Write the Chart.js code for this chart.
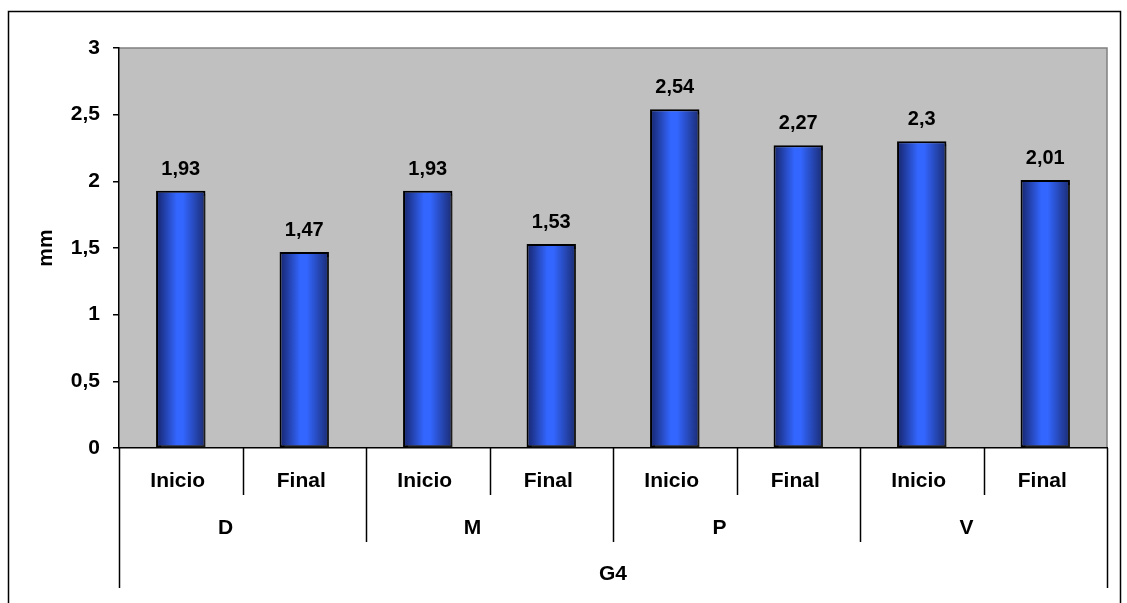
<!DOCTYPE html>
<html>
<head>
<meta charset="utf-8">
<script src="https://cdn.jsdelivr.net/npm/chart.js@4/dist/chart.umd.min.js"></script>
<style>
  body { margin: 0; background: #fff; }
  #grafico { display: block; }
</style>
</head>
<body>
<canvas id="grafico" width="1127" height="603"></canvas>
<script>
// valores medidos (mm) por zona y momento
var fases = ['Inicio', 'Final'];
var zonas = ['D', 'M', 'P', 'V'];
var grupo = 'G4';
var valores = [1.93, 1.47, 1.93, 1.53, 2.54, 2.27, 2.3, 2.01];
var ejeY = [0, 0.5, 1, 1.5, 2, 2.5, 3];

var etiquetas = [];
zonas.forEach(function (z) {
    fases.forEach(function (f) { etiquetas.push(f); });
});

var fuente = "'Liberation Sans', Arial, sans-serif";
var coma = function (v) { return String(v).replace('.', ','); };

// degradado horizontal tipo cilindro para cada barra
function colorBarra(c) {
    var chart = c.chart;
    var x = chart.scales.x;
    if (!x) return '#3366ff';
    var ancho = x.width / etiquetas.length * 0.4;
    var cx = x.getPixelForValue(c.dataIndex);
    if (!isFinite(cx) || !isFinite(ancho) || ancho <= 0) return '#3366ff';
    var g = chart.ctx.createLinearGradient(cx - ancho / 2, 0, cx + ancho / 2, 0);
    g.addColorStop(0, '#16246a');
    g.addColorStop(0.42, '#3366ff');
    g.addColorStop(0.55, '#3366ff');
    g.addColorStop(1, '#1a2b72');
    return g;
}

var marco = {
    id: 'marco',
    beforeDraw: function (chart) {
        var ctx = chart.ctx, a = chart.chartArea;
        ctx.save();
        ctx.fillStyle = '#c0c0c0';
        ctx.fillRect(a.left, a.top, a.right - a.left, a.bottom - a.top);
        ctx.strokeStyle = '#808080';
        ctx.lineWidth = 1.5;
        ctx.beginPath();
        ctx.moveTo(a.left, a.top);
        ctx.lineTo(a.right, a.top);
        ctx.lineTo(a.right, a.bottom);
        ctx.stroke();
        // borde exterior
        ctx.strokeStyle = '#000';
        ctx.lineWidth = 1.5;
        ctx.strokeRect(8.5, 11.5, 1112, 620);
        ctx.restore();
    },
    beforeDatasetsDraw: function (chart) {
        var ctx = chart.ctx;
        ctx.save();
        ctx.shadowColor = 'rgba(60,60,60,0.45)';
        ctx.shadowOffsetX = 3;
        ctx.shadowOffsetY = 3;
        ctx.shadowBlur = 0;
    },
    afterDatasetsDraw: function (chart) {
        var ctx = chart.ctx;
        ctx.restore();
        // valores encima de cada barra
        ctx.save();
        ctx.fillStyle = '#000';
        ctx.font = 'bold 20px ' + fuente;
        ctx.textAlign = 'center';
        ctx.textBaseline = 'alphabetic';
        chart.getDatasetMeta(0).data.forEach(function (bar, i) {
            ctx.fillText(coma(valores[i]), bar.x, bar.y - 16);
        });
        ctx.restore();
    },
    afterDraw: function (chart) {
        // eje de categorias en tres niveles
        var ctx = chart.ctx, x = chart.scales.x, base = chart.chartArea.bottom;
        var n = etiquetas.length;
        var centros = etiquetas.map(function (e, i) { return x.getPixelForValue(i); });
        var limites = [x.left];
        for (var i = 1; i < n; i++) limites.push((centros[i - 1] + centros[i]) / 2);
        limites.push(x.right);

        ctx.save();
        ctx.strokeStyle = '#000';
        ctx.lineWidth = 1.5;
        limites.forEach(function (px, i) {
            var largo = 47;
            if (i === 0 || i === n) largo = 140;
            else if (i % fases.length === 0) largo = 94;
            ctx.beginPath();
            ctx.moveTo(Math.round(px) + 0.5, base);
            ctx.lineTo(Math.round(px) + 0.5, base + largo);
            ctx.stroke();
        });

        ctx.fillStyle = '#000';
        ctx.font = 'bold 21px ' + fuente;
        ctx.textAlign = 'center';
        ctx.textBaseline = 'middle';
        etiquetas.forEach(function (e, i) {
            ctx.fillText(e, centros[i] - 3, base + 33);
        });
        zonas.forEach(function (z, k) {
            var a = limites[k * fases.length], b = limites[(k + 1) * fases.length];
            ctx.fillText(z, (a + b) / 2 - 17, base + 80);
        });
        ctx.fillText(grupo, (x.left + x.right) / 2, base + 126);
        ctx.restore();
    }
};

var grafico = new Chart(document.getElementById('grafico'), {
    type: 'bar',
    data: {
        labels: etiquetas,
        datasets: [{
            data: valores,
            backgroundColor: colorBarra,
            borderColor: '#000',
            borderWidth: 2,
            borderSkipped: false,
            barPercentage: 0.4,
            categoryPercentage: 1
        }]
    },
    options: {
        responsive: false,
        animation: false,
        layout: { padding: { left: 0, top: 48, right: 20, bottom: 0 } },
        plugins: {
            legend: { display: false },
            tooltip: { enabled: false }
        },
        scales: {
            x: {
                ticks: { display: false },
                grid: { display: false },
                border: { color: '#000', width: 1.5 },
                afterFit: function (s) { s.height = 155; }
            },
            y: {
                min: 0,
                max: 3,
                afterFit: function (s) { s.width = 119; },
                afterBuildTicks: function (s) {
                    s.ticks = ejeY.map(function (v) { return { value: v }; });
                },
                ticks: {
                    color: '#000',
                    padding: 13,
                    font: { family: fuente, size: 21, weight: 'bold' },
                    callback: function (v) { return coma(v); }
                },
                grid: { drawOnChartArea: false, tickLength: 6, color: '#000', lineWidth: 1.5 },
                border: { color: '#000', width: 1.5 },
                title: {
                    display: true,
                    text: 'mm',
                    color: '#000',
                    padding: { top: 34, bottom: 0 },
                    font: { family: fuente, size: 21, weight: 'bold' }
                }
            }
        }
    },
    plugins: [marco]
});
</script>
</body>
</html>
